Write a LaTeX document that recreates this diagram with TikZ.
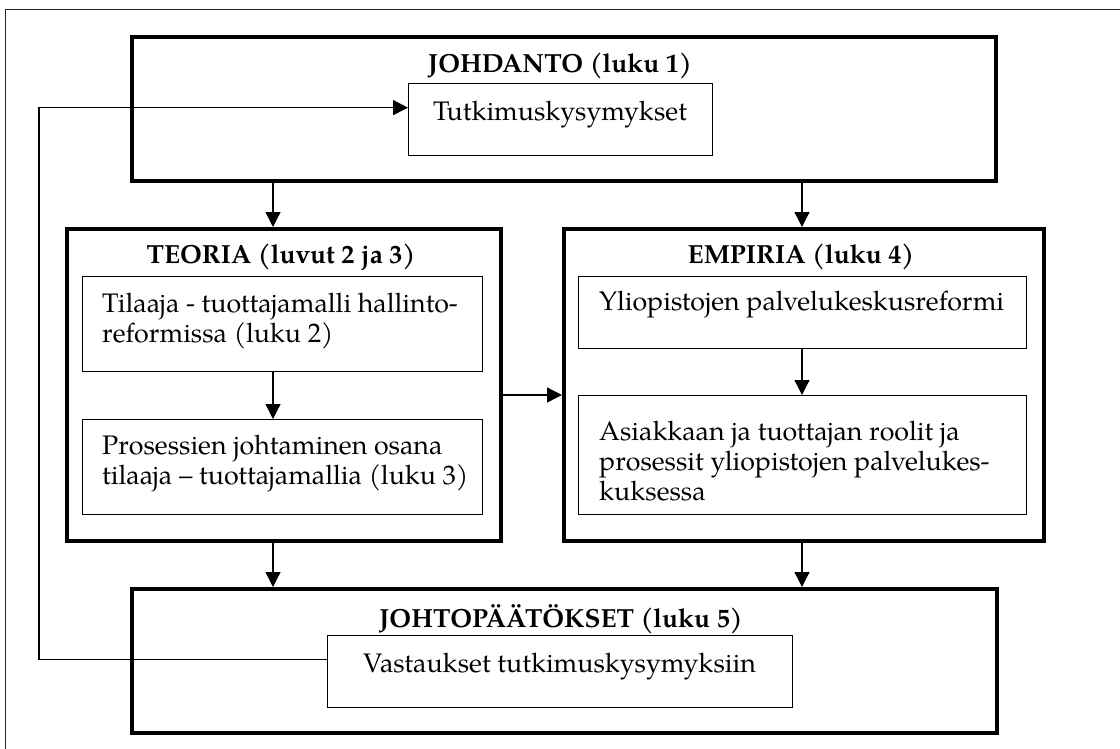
\documentclass[tikz,border=0pt]{standalone}
\usepackage{fontspec}
\setmainfont{texgyrepagella}[Extension=.otf, UprightFont=*-regular, BoldFont=*-bold, ItalicFont=*-italic, BoldItalicFont=*-bolditalic]
\usetikzlibrary{arrows.meta}

\begin{document}
\begin{tikzpicture}[x=1pt, y=-1pt,
  bigbox/.style={draw, line width=3.5pt, minimum width=#1, inner sep=0pt, anchor=north west},
  smallbox/.style={draw, line width=1.3pt, inner sep=0pt, anchor=north west},
  title/.style={anchor=base, inner sep=0pt, font=\bfseries\fontsize{26.2}{30}\selectfont},
  body/.style={anchor=base west, inner sep=0pt, align=left, font=\fontsize{26.8}{30}\selectfont},
  arr/.style={line width=1.3pt, -{Triangle[length=15pt, width=15pt]}},
  link/.style={line width=1.3pt}]

\clip (0,0) rectangle (1120,748);
\fill[white] (0,0) rectangle (1120,748);

% outer frame
\draw[line width=1.4pt, black!85] (5.5,9.5) rectangle (1140,770);

% chapter boxes
\node[bigbox=864pt, minimum height=144pt] (johd) at (130,35) {};
\node[bigbox=434pt, minimum height=312pt] (teoria) at (65,227) {};
\node[bigbox=480pt, minimum height=312pt] (empiria) at (562,227) {};
\node[bigbox=865pt, minimum height=144pt] (johto) at (130,587) {};

% inner boxes
\node[smallbox, minimum width=304pt, minimum height=72pt] (tutk) at (408,83) {};
\node[smallbox, minimum width=400pt, minimum height=95pt] (tilaaja) at (82,276) {};
\node[smallbox, minimum width=400pt, minimum height=95pt] (prosessit) at (82,419) {};
\node[smallbox, minimum width=448pt, minimum height=72pt] (yliop) at (578,276) {};
\node[smallbox, minimum width=448pt, minimum height=119pt] (asiak) at (578,395) {};
\node[smallbox, minimum width=465pt, minimum height=72pt] (vast) at (327,635) {};

% titles
\node[title] (t1) at (560,72) {JOHDANTO (luku 1)};
\node[title] (t2) at (281,263) {TEORIA (luvut 2 ja 3)};
\node[title] (t3) at (801,263) {EMPIRIA (luku 4)};
\node[title] (t4) at (561,627) {JOHTOPÄÄTÖKSET (luku 5)};

% box texts (multi-line nodes are placed by the baseline of their last line)
\node[body] (l1) at (433,120) {Tutkimuskysymykset};
\node[body] (l2) at (102,342) {Tilaaja - tuottajamalli hallinto-\\reformissa (luku 2)};
\node[body] (l3) at (102,484) {Prosessien johtaminen osana\\tilaaja – tuottajamallia (luku 3)};
\node[body] (l4) at (599,310) {Yliopistojen palvelukeskusreformi};
\node[body] (l5) at (599,500) {Asiakkaan ja tuottajan roolit ja\\prosessit yliopistojen palvelukes-\\kuksessa};
\node[body] (l6) at (363,672) {Vastaukset tutkimuskysymyksiin};

% column and return-line positions
\coordinate (cl) at (273,0);
\coordinate (cr) at (802,0);
\coordinate (fb) at (39,0);

% flow arrows
\draw[arr] (johd.south -| cl) -- (teoria.north -| cl);
\draw[arr] (johd.south -| cr) -- (empiria.north -| cr);
\draw[arr] (tilaaja.south -| cl) -- (prosessit.north -| cl);
\draw[arr] (yliop.south -| cr) -- (asiak.north -| cr);
\draw[arr] (teoria.east |- asiak.north) -- (empiria.west |- asiak.north);
\draw[arr] (teoria.south -| cl) -- (johto.north -| cl);
\draw[arr] (empiria.south -| cr) -- (johto.north -| cr);

% return line from the answers back to the research questions
\coordinate (fbout) at ([yshift=12pt]vast.west);
\coordinate (fbin) at ([yshift=12pt]tutk.west);
\draw[arr] (fbout) -- (fbout -| fb) -- (fbin -| fb) -- (fbin);
\end{tikzpicture}
\end{document}
